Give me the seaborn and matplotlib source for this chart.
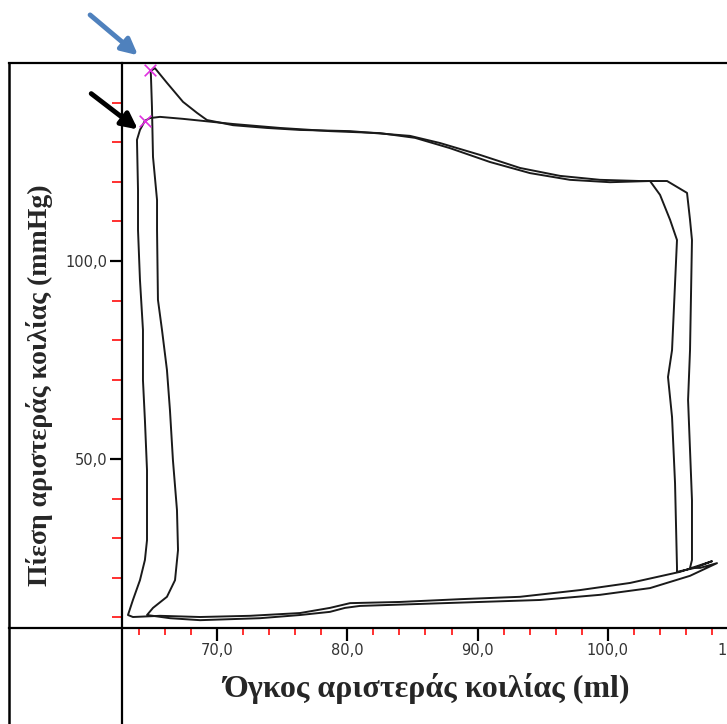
import numpy as np
import pandas as pd
import matplotlib
matplotlib.use('Agg')
import matplotlib.pyplot as plt
import seaborn as sb

# loop A (higher end-systolic peak), volume in ml / pressure in mmHg
vol_a = [64.9, 64.93, 65.01, 65.09, 65.40, 65.40, 65.47, 65.78, 66.16, 66.39, 66.62, 66.93, 67.01,
         66.78, 66.16, 65.09, 64.63, 66.39, 68.70, 73.30, 76.37, 78.67, 79.82, 80.97, 85.58, 90.18,
         94.79, 99.39, 103.23, 106.30, 108.37, 107.07, 106.30, 106.45, 106.45, 106.30, 106.15,
         106.30, 106.45, 106.30, 106.07, 104.54, 102.46, 99.39, 96.32, 93.25, 90.18, 87.11, 84.81,
         80.21, 76.37, 73.84, 71.23, 69.23, 68.47, 67.39, 66.16, 65.24, 64.9]
pres_a = [148.0, 147.0, 138.9, 126.3, 115.4, 107.8, 90.2, 82.6, 72.5, 62.4, 49.7, 37.1, 27.0,
          19.4, 15.2, 12.4, 10.6, 9.8, 9.3, 9.8, 10.6, 11.4, 12.4, 12.9, 13.4, 13.9,
          14.4, 15.7, 17.4, 20.5, 23.7, 22.5, 22.5, 24.5, 39.6, 52.3, 64.9,
          77.5, 105.3, 110.4, 117.2, 120.2, 120.2, 120.5, 121.5, 123.5, 126.8, 129.8, 131.6,
          132.8, 133.1, 133.6, 134.3, 135.6, 137.4, 140.2, 145.0, 148.7, 148.0]

# loop B (second beat)
vol_b = [64.47, 64.09, 63.86, 63.94, 63.94, 64.09, 64.32, 64.32, 64.47, 64.63, 64.63, 64.47,
         64.09, 63.55, 63.17, 63.55, 65.63, 68.70, 72.53, 76.37, 78.67, 80.21, 84.04, 88.65,
         93.25, 97.86, 101.70, 105.53, 107.99, 106.68, 105.30, 105.30, 105.15, 104.92, 104.61,
         104.92, 105.30, 104.77, 104.00, 103.23, 100.16, 97.09, 94.02, 90.95, 87.88, 85.20,
         82.51, 78.67, 74.84, 71.23, 67.39, 65.63, 64.86, 64.47]
pres_b = [135.4, 133.1, 130.6, 117.9, 107.8, 95.2, 82.6, 69.9, 59.8, 47.2, 29.5, 24.5,
          19.4, 14.4, 10.6, 10.1, 10.4, 10.1, 10.4, 11.1, 12.4, 13.6, 13.9, 14.6,
          15.2, 16.9, 18.7, 21.5, 24.2, 22.5, 21.5, 22.7, 43.9, 60.6, 70.7,
          77.5, 105.3, 110.4, 116.7, 120.2, 119.9, 120.5, 122.2, 125.0, 128.5, 131.1,
          132.3, 132.8, 133.6, 134.6, 135.9, 136.4, 136.1, 135.4]

# end-systolic points (magenta crosses)
es_vol = [64.86, 64.47]
es_pres = [148.2, 135.4]

x_major = [70, 80, 90, 100, 110]
y_major = [50, 100]

sb.set_style('white')

fig = plt.figure(figsize=(7.27, 7.24), dpi=100)
ax = fig.add_axes([9 / 727, 0, 751 / 727, 661.5 / 724])

loop_a = pd.DataFrame({'vol': vol_a, 'pres': pres_a})
loop_b = pd.DataFrame({'vol': vol_b, 'pres': pres_b})
sb.lineplot(data=loop_a, x='vol', y='pres', sort=False, estimator=None, color='#1a1a1a', lw=1.4, ax=ax)
sb.lineplot(data=loop_b, x='vol', y='pres', sort=False, estimator=None, color='#1a1a1a', lw=1.4, ax=ax)
ax.scatter(es_vol, es_pres, marker='x', color='#e030e0', s=70, lw=1.2, zorder=5)

ax.set_xlim(54.04, 111.67)
ax.set_ylim(-16.92, 150.13)

# axes cross inside the frame
ax.spines['left'].set_position(('data', 62.7))
ax.spines['bottom'].set_position(('data', 7.3))
ax.spines['right'].set_visible(False)
for s in ['left', 'bottom', 'top']:
    ax.spines[s].set_color('black')
    ax.spines[s].set_linewidth(1.6)
ax.plot([0, 0], [0, 1], transform=ax.transAxes, color='black', lw=1.8, clip_on=False)

ax.set_xticks(x_major)
ax.set_xticklabels(['70,0', '80,0', '90,0', '100,0', '110,0'])
ax.set_xticks([m for m in range(64, 110, 2) if m % 10 != 0], minor=True)
ax.set_yticks(y_major)
ax.set_yticklabels(['50,0', '100,0'])
ax.set_yticks([m for m in range(10, 150, 10) if m % 50 != 0], minor=True)

ax.tick_params(axis='both', which='major', direction='out', length=9, width=1.6, color='black',
               labelsize=10.5, labelcolor='#333333', pad=1.5, bottom=True, left=True)
ax.tick_params(axis='x', which='minor', direction='out', length=5, width=1.3, color='#ff2020',
               bottom=True, top=False)
ax.tick_params(axis='y', which='minor', direction='out', length=7, width=1.3, color='#ff2020',
               left=True, right=False)
ax.set_xlabel('')
ax.set_ylabel('')

fig.text(426 / 727, 1 - 688 / 724, 'Όγκος αριστεράς κοιλίας (ml)', ha='center', va='center',
         family='Liberation Serif', fontweight='bold', fontsize=23)
fig.text(40 / 727, 1 - 385 / 724, 'Πίεση αριστεράς κοιλίας (mmHg)', ha='center', va='center',
         rotation=90, family='Liberation Serif', fontweight='bold', fontsize=20)

# arrows pointing at the end-systolic points
ax.annotate('', xy=(64.1, 151.5), xytext=(60.1, 162.6), annotation_clip=False,
            arrowprops=dict(arrowstyle='-|>', color='#4f81bd', lw=3.5, mutation_scale=24))
ax.annotate('', xy=(64.1, 132.8), xytext=(60.18, 142.7), annotation_clip=False,
            arrowprops=dict(arrowstyle='-|>', color='black', lw=3.5, mutation_scale=24))

plt.savefig('out.png', dpi=100)
